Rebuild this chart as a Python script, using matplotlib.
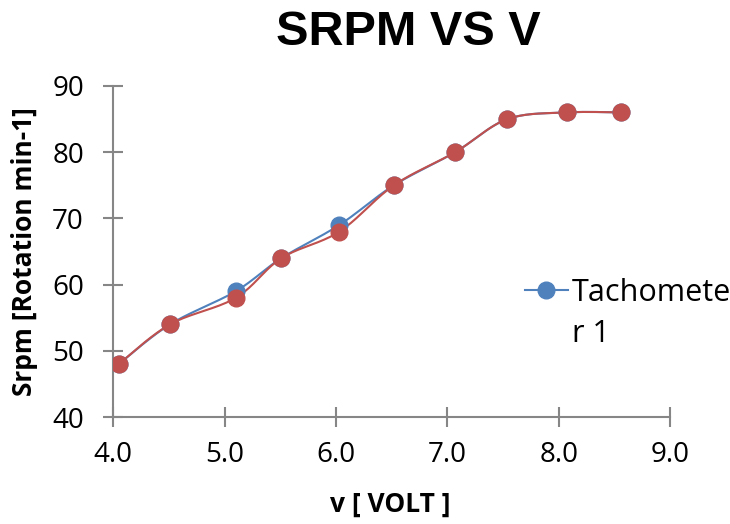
import matplotlib
matplotlib.use("Agg")
import matplotlib.pyplot as plt
import numpy as np

# data
volts = [4.05, 4.51, 5.10, 5.51, 6.03, 6.52, 7.07, 7.54, 8.07, 8.56]
tacho_1 = [48, 54, 59, 64, 69, 75, 80, 85, 86, 86]
tacho_2 = [48, 54, 58, 64, 68, 75, 80, 85, 86, 86]

x_ticks = [4.0, 5.0, 6.0, 7.0, 8.0, 9.0]
y_ticks = [40, 50, 60, 70, 80, 90]

blue = '#4F81BD'
red = '#C0504D'
gray = '#868686'

plt.rcParams['font.family'] = ['Open Sans', 'DejaVu Sans']


def smooth(x, y, n=20):
    """Catmull-Rom curve through the points, like Excel's smoothed line"""
    x = np.asarray(x, float)
    y = np.asarray(y, float)
    px = np.concatenate([[x[0]], x, [x[-1]]])
    py = np.concatenate([[y[0]], y, [y[-1]]])
    xs, ys = [], []
    t = np.linspace(0, 1, n)
    for i in range(1, len(px) - 2):
        for p, out in ((px, xs), (py, ys)):
            p0, p1, p2, p3 = p[i - 1], p[i], p[i + 1], p[i + 2]
            out.extend(0.5 * ((2 * p1) + (-p0 + p2) * t +
                              (2 * p0 - 5 * p1 + 4 * p2 - p3) * t ** 2 +
                              (-p0 + 3 * p1 - 3 * p2 + p3) * t ** 3))
    return xs, ys


fig = plt.figure(figsize=(7.3, 5.24), dpi=100)
ax = fig.add_axes([0.155, 0.204, 0.763, 0.632])

for yv, col in ((tacho_1, blue), (tacho_2, red)):
    sx, sy = smooth(volts, yv)
    ax.plot(sx, sy, color=col, lw=1.5, zorder=2)
    ax.plot(volts, yv, 'o', color=col, ms=12, zorder=3)

# legend (only the first series is listed, label wrapped as in the source)
fig.add_artist(plt.Line2D([0.719, 0.778], [0.4466, 0.4466], color=blue, lw=1.5,
                          transform=fig.transFigure))
fig.add_artist(plt.Line2D([0.7485], [0.4466], marker='o', ms=12, color=blue,
                          transform=fig.transFigure))
fig.text(0.783, 0.4466, 'Tachomete', fontsize=22, va='center_baseline', ha='left')
fig.text(0.783, 0.3700, 'r 1', fontsize=22, va='center_baseline', ha='left')

ax.set_xlim(4.0, 9.0)
ax.set_ylim(40, 90)
ax.set_xticks(x_ticks)
ax.set_xticklabels(['%.1f' % v for v in x_ticks])
ax.set_yticks(y_ticks)

for s in ('top', 'right'):
    ax.spines[s].set_visible(False)
for s in ('left', 'bottom'):
    ax.spines[s].set_color(gray)
    ax.spines[s].set_linewidth(1.5)
ax.tick_params(axis='both', direction='inout', length=14, width=1.5,
               color=gray, labelsize=20, labelcolor='black')
ax.tick_params(axis='x', pad=10)
ax.tick_params(axis='y', pad=14)

fig.text(0.560, 1 - 45 / 524, 'SRPM VS V', fontsize=35, fontweight='bold',
         family='Liberation Sans', ha='center', va='baseline')
fig.text(390 / 730, 1 - 512 / 524, 'v [ VOLT ]', fontsize=19, fontweight='bold',
         ha='center', va='baseline')
fig.text(32 / 730, 1 - 252 / 524, 'Srpm [Rotation min-1]', fontsize=19,
         fontweight='bold', rotation=90, rotation_mode='anchor',
         ha='center', va='baseline')

plt.savefig('out.png', dpi=100)
